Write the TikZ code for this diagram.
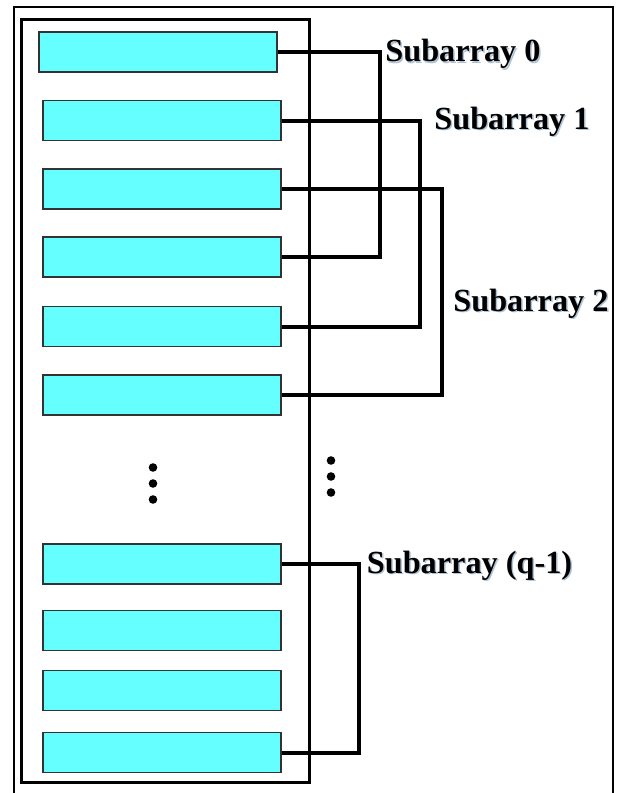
\documentclass[tikz,border=0pt]{standalone}
\usepackage{fontspec}
\setmainfont{Liberation Serif}
\definecolor{cellfill}{HTML}{66FFFF}
\definecolor{celledge}{HTML}{333333}
\definecolor{glow}{RGB}{175,195,215}
\begin{document}
\begin{tikzpicture}[x=0.5bp,y=-0.5bp,
  cell/.style={draw=celledge,line width=0.6bp,fill=cellfill,rectangle,
    minimum width=119bp,minimum height=20bp,inner sep=0pt},
  wire/.style={line width=2bp,line join=miter},
  lbl/.style={anchor=base west,inner sep=0pt,font=\fontsize{16.2}{18}\selectfont\bfseries},
  lblshadow/.style={lbl,text=glow},
  dotmark/.style={fill=black,draw=none}]
  \clip (0,0) rectangle (618,793);
  % outer page frame (runs past the lower edge)
  \draw[line width=1.2bp] (14,7) rectangle (613,830);
  % memory bank frame
  \draw[line width=1.5bp] (21,19) rectangle (309,782);

  % rows of the bank
  \node[cell] (b1)  at (158,52)    {};
  \node[cell] (b2)  at (162,120.5) {};
  \node[cell] (b3)  at (162,189)   {};
  \node[cell] (b4)  at (162,257)   {};
  \node[cell] (b5)  at (162,326.5) {};
  \node[cell] (b6)  at (162,395)   {};
  \node[cell] (b7)  at (162,564)   {};
  \node[cell] (b8)  at (162,630.5) {};
  \node[cell] (b9)  at (162,690.5) {};
  \node[cell] (b10) at (162,752.5) {};

  % columns of the subarray buses
  \coordinate (c0) at (379.5,0);
  \coordinate (c1) at (420,0);
  \coordinate (c2) at (441.5,0);
  \coordinate (cq) at (358.5,0);

  \draw[wire] (b1.east) -- (b1.east -| c0) -- (b4.east -| c0) -- (b4.east);
  \draw[wire] (b2.east) -- (b2.east -| c1) -- (b5.east -| c1) -- (b5.east);
  \draw[wire] (b3.east) -- (b3.east -| c2) -- (b6.east -| c2) -- (b6.east);
  \draw[wire] (b7.east) -- (b7.east -| cq) -- (b10.east -| cq) -- (b10.east);

  % labels
  \foreach \p/\t in {{(386.5,63.2)}/{Subarray 0},{(435.5,130.5)}/{Subarray 1},
                     {(454.5,312.5)}/{Subarray 2},{(368,574.5)}/{Subarray (q-1)}}
    \node[lblshadow] at \p {\t};
  \node[lbl] (s0) at (385,61.7)  {Subarray 0};
  \node[lbl] (s1) at (434,129)   {Subarray 1};
  \node[lbl] (s2) at (453,311)   {Subarray 2};
  \node[lbl] (sq) at (366.5,573) {Subarray (q-1)};

  % ellipsis dots
  \foreach \y in {467.5,483.5,499.5} \fill[dotmark] (153,\y) circle (4.3);
  \foreach \y in {460.5,476.5,492.5} \fill[dotmark] (331,\y) circle (4.3);
\end{tikzpicture}
\end{document}
